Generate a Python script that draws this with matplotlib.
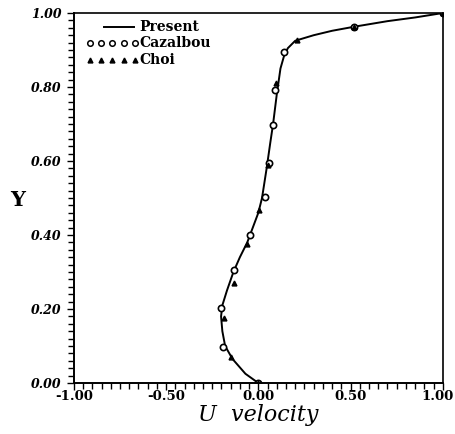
import matplotlib
matplotlib.use('Agg')

import matplotlib.pyplot as plt
import matplotlib.transforms as mtransforms
from matplotlib.ticker import MultipleLocator, FormatStrFormatter

# Present (computed profile)
present_u = [0.0, -0.07, -0.14, -0.18, -0.195, -0.202, -0.195, -0.17, -0.135, -0.10,
             -0.06, -0.03, 0.0, 0.02, 0.045, 0.065, 0.08, 0.10, 0.12, 0.14,
             0.16, 0.20, 0.30, 0.40, 0.52, 0.70, 0.85, 0.95, 1.0]
present_y = [0.0, 0.025, 0.065, 0.10, 0.14, 0.18, 0.21, 0.25, 0.30, 0.34,
             0.38, 0.42, 0.46, 0.50, 0.58, 0.65, 0.70, 0.78, 0.85, 0.885,
             0.905, 0.925, 0.94, 0.952, 0.963, 0.978, 0.988, 0.996, 1.0]

# Cazalbou (open circles)
caz_u = [0.0, -0.193, -0.202, -0.134, -0.043, 0.034, 0.056, 0.079, 0.092, 0.137, 0.52, 1.0]
caz_y = [0.0, 0.096, 0.202, 0.305, 0.400, 0.502, 0.594, 0.697, 0.792, 0.894, 0.963, 1.0]

# Choi (filled triangles)
choi_u = [0.0, -0.148, -0.187, -0.13, -0.061, 0.002, 0.05, 0.097, 0.209, 0.52, 1.0]
choi_y = [0.0, 0.069, 0.175, 0.269, 0.376, 0.468, 0.59, 0.81, 0.927, 0.963, 1.0]

fig = plt.figure(figsize=(4.56, 4.34), dpi=100)
ax = fig.add_axes([0.162, 0.1175, 0.809, 0.8525])

ax.plot(present_u, present_y, color='black', linewidth=1.4)
ax.plot(caz_u, caz_y, 'o', markerfacecolor='white', markeredgecolor='black',
        markersize=4.5, markeredgewidth=1.2, linestyle='none')
ax.plot(choi_u, choi_y, '^', color='black', markersize=3.5, linestyle='none')

ax.set_xlim(-1.0, 1.0)
ax.set_ylim(0.0, 1.0)

ax.xaxis.set_major_locator(MultipleLocator(0.5))
ax.xaxis.set_minor_locator(MultipleLocator(0.05))
ax.yaxis.set_major_locator(MultipleLocator(0.2))
ax.yaxis.set_minor_locator(MultipleLocator(0.02))
ax.xaxis.set_major_formatter(FormatStrFormatter('%.2f'))
ax.yaxis.set_major_formatter(FormatStrFormatter('%.2f'))

ax.tick_params(which='both', direction='out', top=False, right=False, width=1.0)
ax.tick_params(which='major', length=5)
ax.tick_params(which='minor', length=4)
ax.tick_params(axis='x', which='major', pad=0)
ax.tick_params(axis='y', which='major', pad=4)

fig.canvas.draw()
xlabels = ax.get_xticklabels()
for lbl in xlabels:
    lbl.set_fontfamily('DejaVu Serif')
    lbl.set_fontweight('bold')
    lbl.set_fontsize(9.5)
# keep the last label inside the figure edge
last = [l for l in xlabels if l.get_text() == '1.00']
for lbl in last:
    lbl.set_transform(lbl.get_transform() +
                      mtransforms.ScaledTranslation(-5 / 100, 0, fig.dpi_scale_trans))
for lbl in ax.get_yticklabels():
    lbl.set_fontfamily('DejaVu Serif')
    lbl.set_fontweight('bold')
    lbl.set_fontstyle('italic')
    lbl.set_fontsize(9)

for side in ['left', 'bottom']:
    ax.spines[side].set_linewidth(1.4)
for side in ['top', 'right']:
    ax.spines[side].set_linewidth(1.2)

ax.set_xlabel('U  velocity', fontsize=16, fontfamily='DejaVu Serif',
              fontstyle='italic', labelpad=1)
fig.text(0.038, 0.539, 'Y', fontsize=15, fontfamily='DejaVu Serif',
         fontweight='bold', ha='center', va='center')

# legend drawn as in the original figure
leg_x = [-0.915, -0.853, -0.791, -0.729, -0.667]
ax.plot([-0.838, -0.676], [0.962, 0.962], color='black', linewidth=1.4)
ax.plot(leg_x, [0.919] * 5, 'o', markerfacecolor='white', markeredgecolor='black',
        markersize=4, markeredgewidth=1.1, linestyle='none')
ax.plot(leg_x, [0.873] * 5, '^', color='black', markersize=3.5, linestyle='none')
for yy, txt in [(0.962, 'Present'), (0.919, 'Cazalbou'), (0.873, 'Choi')]:
    ax.text(-0.645, yy, txt, fontsize=10, fontfamily='DejaVu Serif',
            fontweight='bold', va='center', ha='left')

plt.savefig('out.png', dpi=100)
plt.close()
